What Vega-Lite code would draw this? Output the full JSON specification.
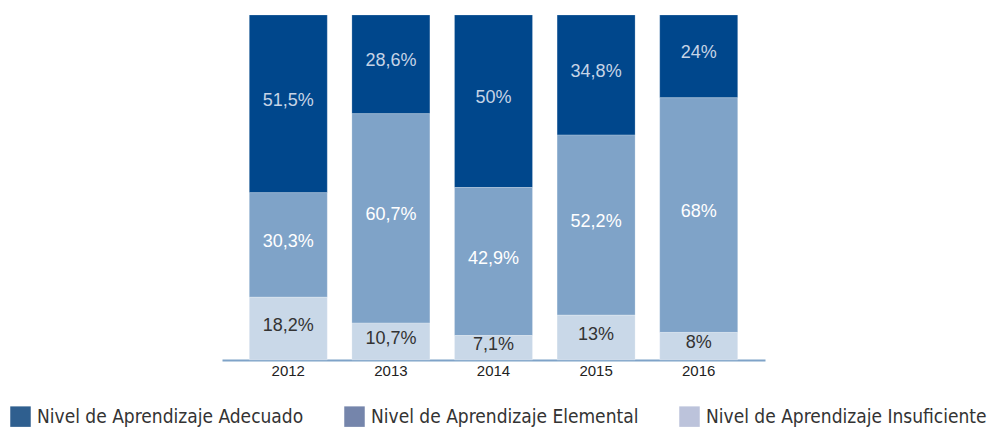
{
  "$schema": "https://vega.github.io/schema/vega-lite/v6.json",
  "width": 543,
  "height": 345,
  "autosize": "none",
  "padding": {"left": 222, "top": 15, "right": 223, "bottom": 70},
  "background": "white",
  "config": {"view": {"stroke": null}},
  "data": {
    "values": [
      {"year": "2012", "nivel": "Nivel de Aprendizaje Adecuado", "v": 51.5, "label": "51,5%"},
      {"year": "2012", "nivel": "Nivel de Aprendizaje Elemental", "v": 30.3, "label": "30,3%"},
      {"year": "2012", "nivel": "Nivel de Aprendizaje Insuficiente", "v": 18.2, "label": "18,2%"},
      {"year": "2013", "nivel": "Nivel de Aprendizaje Adecuado", "v": 28.6, "label": "28,6%"},
      {"year": "2013", "nivel": "Nivel de Aprendizaje Elemental", "v": 60.7, "label": "60,7%"},
      {"year": "2013", "nivel": "Nivel de Aprendizaje Insuficiente", "v": 10.7, "label": "10,7%"},
      {"year": "2014", "nivel": "Nivel de Aprendizaje Adecuado", "v": 50, "label": "50%"},
      {"year": "2014", "nivel": "Nivel de Aprendizaje Elemental", "v": 42.9, "label": "42,9%"},
      {"year": "2014", "nivel": "Nivel de Aprendizaje Insuficiente", "v": 7.1, "label": "7,1%"},
      {"year": "2015", "nivel": "Nivel de Aprendizaje Adecuado", "v": 34.8, "label": "34,8%"},
      {"year": "2015", "nivel": "Nivel de Aprendizaje Elemental", "v": 52.2, "label": "52,2%"},
      {"year": "2015", "nivel": "Nivel de Aprendizaje Insuficiente", "v": 13, "label": "13%"},
      {"year": "2016", "nivel": "Nivel de Aprendizaje Adecuado", "v": 24, "label": "24%"},
      {"year": "2016", "nivel": "Nivel de Aprendizaje Elemental", "v": 68, "label": "68%"},
      {"year": "2016", "nivel": "Nivel de Aprendizaje Insuficiente", "v": 8, "label": "8%"}
    ]
  },
  "transform": [
    {"stack": "v", "groupby": ["year"], "sort": [{"field": "nivel", "order": "descending"}], "as": ["y0", "y1"]},
    {"calculate": "(datum.y0 + datum.y1) / 2", "as": "mid"}
  ],
  "encoding": {
    "x": {
      "field": "year",
      "type": "nominal",
      "scale": {"paddingInner": 0.24, "paddingOuter": 0.266},
      "axis": {
        "title": null,
        "labelAngle": 0,
        "ticks": false,
        "domainColor": "#7FA3C8",
        "domainWidth": 2,
        "labelFont": "Liberation Sans",
        "labelFontSize": 15,
        "labelColor": "#222222",
        "labelPadding": 3
      }
    }
  },
  "layer": [
    {
      "mark": {"type": "square", "filled": true, "size": 1, "opacity": 1},
      "encoding": {
        "y": {"field": "mid", "type": "quantitative", "scale": {"domain": [0, 100], "nice": false}, "axis": null},
        "color": {
          "field": "nivel",
          "type": "nominal",
          "scale": {
            "domain": ["Nivel de Aprendizaje Adecuado", "Nivel de Aprendizaje Elemental", "Nivel de Aprendizaje Insuficiente"],
            "range": ["#2F5F8F", "#7585AB", "#BCC3DB"]
          },
          "legend": {
            "title": null,
            "orient": "none",
            "legendX": -212,
            "legendY": 391,
            "direction": "horizontal",
            "columns": 3,
            "columnPadding": 40,
            "symbolType": "square",
            "symbolSize": 420,
            "symbolStrokeWidth": 0,
            "labelFont": "DejaVu Sans Condensed",
            "labelFontSize": 19,
            "labelColor": "#333333",
            "labelOffset": 6,
            "labelLimit": 400
          }
        }
      }
    },
    {
      "mark": {"type": "bar", "stroke": "white", "strokeWidth": 0.5, "strokeOpacity": 0.4},
      "encoding": {
        "y": {"field": "y0", "type": "quantitative"},
        "y2": {"field": "y1"},
        "fill": {
          "field": "nivel",
          "type": "nominal",
          "scale": {
            "domain": ["Nivel de Aprendizaje Adecuado", "Nivel de Aprendizaje Elemental", "Nivel de Aprendizaje Insuficiente"],
            "range": ["#00478C", "#7FA3C8", "#C9D8E8"]
          },
          "legend": null
        }
      }
    },
    {
      "mark": {"type": "text", "font": "Liberation Sans", "fontSize": 18, "baseline": "middle", "align": "center", "dy": -3},
      "encoding": {
        "y": {"field": "mid", "type": "quantitative"},
        "text": {"field": "label"},
        "color": {
          "condition": [
            {"test": "datum.nivel === 'Nivel de Aprendizaje Adecuado'", "value": "#C6D4E6"},
            {"test": "datum.nivel === 'Nivel de Aprendizaje Elemental'", "value": "#FFFFFF"}
          ],
          "value": "#333333"
        }
      }
    }
  ]
}
